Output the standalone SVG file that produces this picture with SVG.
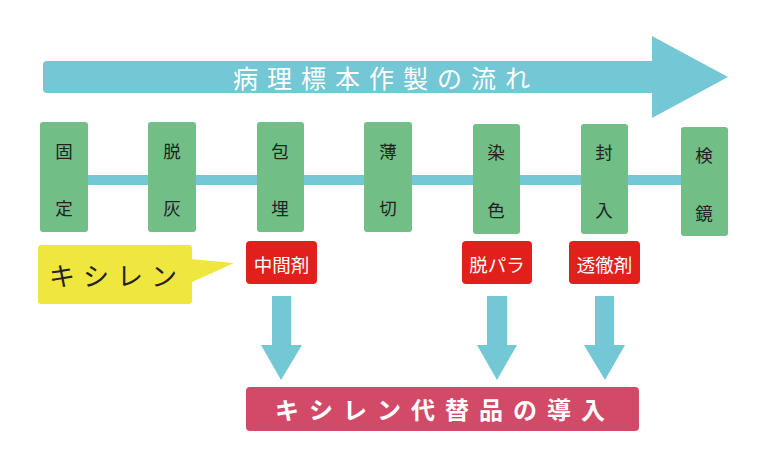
<svg xmlns="http://www.w3.org/2000/svg" width="778" height="449" viewBox="0 0 778 449">
<style>
text{font-family:"Noto Sans CJK JP","Noto Sans",sans-serif;text-anchor:middle;dominant-baseline:central}
.step{fill:#71be86}
.st{font-size:17.5px;fill:#222}
.red{fill:#e2201b}
.rt{font-size:18.5px;fill:#fff}
.teal{fill:#74c7d4}
</style>
<rect width="778" height="449" fill="#fff"/>
<g id="flow-arrow">
<rect x="43" y="61" width="614" height="32" rx="4" class="teal"/>
<polygon points="652,36 728,77 652,118" class="teal"/>
<text x="386" y="77" style="font-size:25px;fill:#fff;letter-spacing:9px">病理標本作製の流れ</text>
</g>
<g id="connectors">
<rect x="86" y="175" width="597" height="10" class="teal"/>
<g class="teal">
<polygon points="272,296 291,296 291,345 302,345 281,380 261,345 272,345"/>
<polygon points="487,296 507,296 507,345 517,345 497,380 477,345 487,345"/>
<polygon points="595,296 614,296 614,345 625,345 605,380 584,345 595,345"/>
</g>
</g>
<g id="step-kotei"><rect x="40" y="122" width="48" height="110" rx="3" class="step"/><text x="64" y="150" class="st">固</text><text x="64" y="207" class="st">定</text></g>
<g id="step-dakkai"><rect x="148" y="122" width="48" height="110" rx="3" class="step"/><text x="172" y="150" class="st">脱</text><text x="172" y="207" class="st">灰</text></g>
<g id="step-houmai"><rect x="257" y="122" width="47" height="110" rx="3" class="step"/><text x="280" y="150" class="st">包</text><text x="280" y="207" class="st">埋</text></g>
<g id="step-hakusetsu"><rect x="364" y="122" width="48" height="110" rx="3" class="step"/><text x="388" y="150" class="st">薄</text><text x="388" y="207" class="st">切</text></g>
<g id="step-senshoku"><rect x="473" y="124" width="47" height="110" rx="3" class="step"/><text x="496" y="151" class="st">染</text><text x="496" y="209" class="st">色</text></g>
<g id="step-fuunyu"><rect x="581" y="124" width="47" height="110" rx="3" class="step"/><text x="604" y="151" class="st">封</text><text x="604" y="209" class="st">入</text></g>
<g id="step-kenkyo"><rect x="681" y="127" width="47" height="109" rx="3" class="step"/><text x="704" y="154" class="st">検</text><text x="704" y="212" class="st">鏡</text></g>
<g id="xylene-callout">
<rect x="38" y="245" width="154" height="59" rx="3" fill="#efe73d"/>
<polygon points="190,259 234,263 190,283" fill="#efe73d"/>
<text x="117" y="274" style="font-size:26px;fill:#222;letter-spacing:8px">キシレン</text>
</g>
<g id="chukanzai"><rect x="246" y="241" width="71" height="43" rx="4" class="red"/><text x="281.5" y="264" class="rt">中間剤</text></g>
<g id="datsupara"><rect x="462" y="241" width="70" height="43" rx="4" class="red"/><text x="497" y="264" class="rt">脱パラ</text></g>
<g id="touteizai"><rect x="569" y="241" width="71" height="43" rx="4" class="red"/><text x="604.5" y="264" class="rt">透徹剤</text></g>
<g id="substitute">
<rect x="246" y="387" width="393" height="44" rx="4" fill="#d24a67"/>
<text x="445" y="408" style="font-size:24px;font-weight:bold;fill:#fff;letter-spacing:10px">キシレン代替品の導入</text>
</g>
</svg>
